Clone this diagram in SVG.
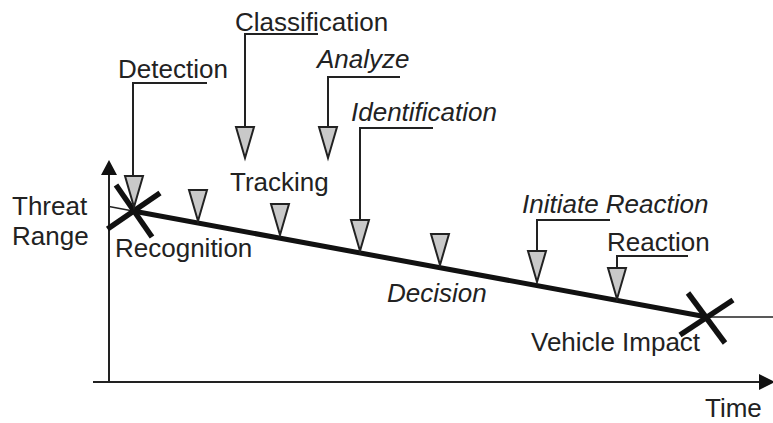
<svg xmlns="http://www.w3.org/2000/svg" width="773" height="423" viewBox="0 0 773 423">
  <style>
    text { font-family: "Liberation Sans", Arial, sans-serif; font-size: 26px; fill: #222; }
    .it { font-style: italic; }
    .axis { stroke: #222; stroke-width: 2; fill: none; }
    .thin { stroke: #222; stroke-width: 1.5; fill: none; }
    .path { stroke: #111; stroke-width: 5; fill: none; }
    .cross { stroke: #111; stroke-width: 5.5; fill: none; }
    .leader { stroke: #222; stroke-width: 2; fill: none; }
    .mark { fill: #c9c9c9; stroke: #222; stroke-width: 2; stroke-linejoin: miter; }
  </style>
  <defs>
    <!-- downward event marker, anchored at the middle of its top edge -->
    <path id="tri" class="mark" d="M-9,0 L9,0 L0,31 Z"/>
  </defs>

  <!-- axes -->
  <g id="axes">
    <line class="axis" x1="109" y1="382" x2="109" y2="172"/>
    <polygon points="109,160 101,175 117,175" fill="#111"/>
    <line class="axis" x1="93" y1="382" x2="762" y2="382"/>
    <polygon points="775,382 759,374 759,390" fill="#111"/>
    <text x="12" y="215">Threat</text>
    <text x="12" y="245">Range</text>
    <text x="705" y="417">Time</text>
  </g>

  <!-- threat trajectory -->
  <g id="trajectory">
    <line class="thin" x1="109" y1="206.6" x2="133" y2="211"/>
    <line class="path" x1="133" y1="211" x2="707" y2="317"/>
    <line class="thin" x1="707" y1="317" x2="773" y2="317"/>
  </g>

  <!-- leader lines from labels to markers -->
  <g id="connectors">
    <polyline class="leader" points="133,176 133,83 207,83"/>
    <polyline class="leader" points="245,128 245,34 318,34"/>
    <polyline class="leader" points="328,128 328,77 400,77"/>
    <polyline class="leader" points="360,220 360,128 433,128"/>
    <polyline class="leader" points="537,251 537,220 610,220"/>
    <polyline class="leader" points="617,268 617,256 688,256"/>
  </g>

  <g id="recognition">
    <line class="cross" x1="107.5" y1="229" x2="160" y2="193"/>
    <line class="cross" x1="116" y1="185" x2="152" y2="237"/>
    <text x="115" y="257">Recognition</text>
  </g>

  <g id="detection">
    <use href="#tri" x="134" y="176"/>
    <text x="118" y="78">Detection</text>
  </g>

  <g id="classification">
    <use href="#tri" x="245" y="127"/>
    <text x="235" y="31">Classification</text>
  </g>

  <g id="analyze">
    <use href="#tri" x="328" y="127"/>
    <text class="it" x="317" y="68">Analyze</text>
  </g>

  <g id="tracking">
    <use href="#tri" x="198" y="190"/>
    <use href="#tri" x="280" y="204"/>
    <text x="230" y="191">Tracking</text>
  </g>

  <g id="identification">
    <use href="#tri" x="360" y="220"/>
    <text class="it" x="351" y="121">Identification</text>
  </g>

  <g id="decision">
    <use href="#tri" x="440" y="234"/>
    <text class="it" x="387" y="302">Decision</text>
  </g>

  <g id="initiate-reaction">
    <use href="#tri" x="537" y="251"/>
    <text class="it" x="522" y="213">Initiate Reaction</text>
  </g>

  <g id="reaction">
    <use href="#tri" x="617" y="268"/>
    <text x="607" y="251">Reaction</text>
  </g>

  <g id="vehicle-impact">
    <line class="cross" x1="688" y1="293" x2="725" y2="343"/>
    <line class="cross" x1="680" y1="335" x2="733" y2="300"/>
    <text x="531" y="351">Vehicle Impact</text>
  </g>
</svg>
